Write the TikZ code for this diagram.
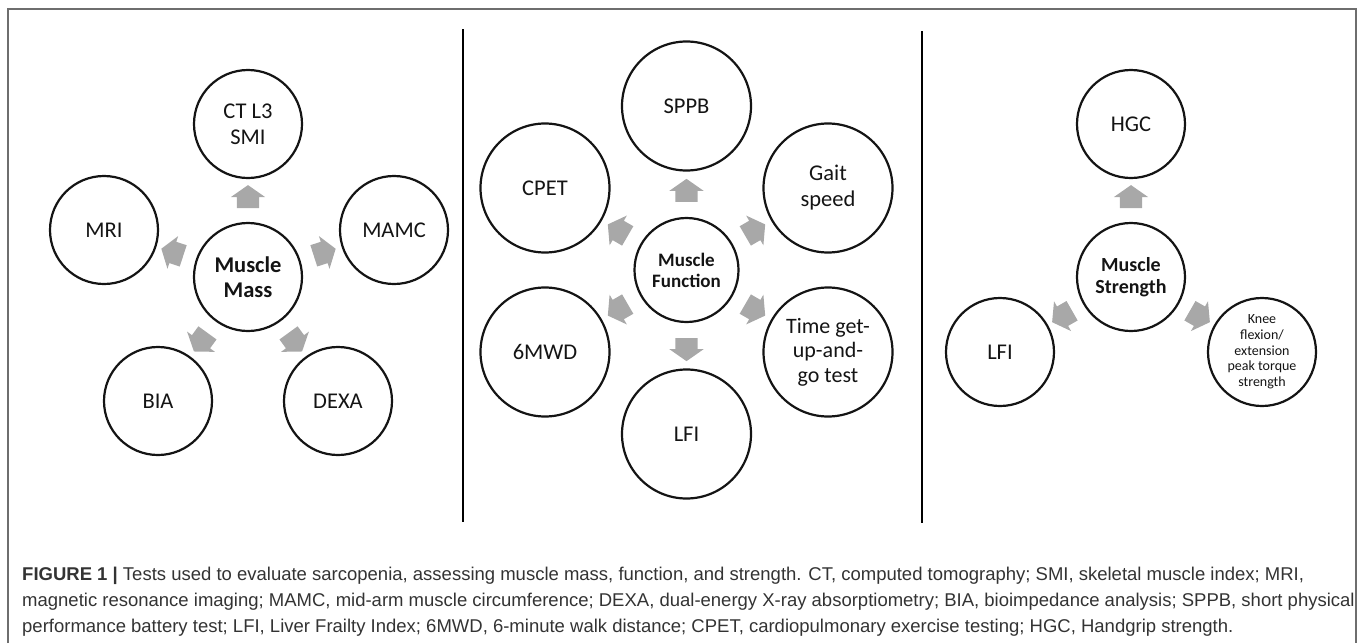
\documentclass[tikz,border=0pt]{standalone}
\usepackage{fontspec}
\setmainfont{Carlito}
\newfontfamily\captionfont{Liberation Sans}
\usetikzlibrary{
  calc,
  shapes.arrows
}
\definecolor{framegray}{HTML}{6E6E6E}
\definecolor{arrowgray}{HTML}{A8A8A8}
\definecolor{inkblack}{HTML}{141414}
\definecolor{captiongray}{HTML}{333333}
\tikzset{
  % For the circles holding one test each.
  test/.style={
    circle,
    draw=inkblack,
    line width=2.2pt,
    inner sep=0pt,
    minimum size=108pt,
    align=center,
    text=inkblack,
    font=\fontsize{22.5pt}{26pt}\selectfont},
%
  % For the bigger circles of the middle panel.
  big test/.style={
    test,
    minimum size=129pt},
%
  % For the circle in the centre of each panel.
  hub/.style={
    test,
    font=\bfseries\fontsize{22.5pt}{25pt}\selectfont},
%
  % For the fat grey arrows, put half way between two circles.
  % The shaft width comes from the inner ysep of the empty node.
  block arrow/.style={
    single arrow,
    sloped,
    allow upside down,
    fill=arrowgray,
    inner xsep=0pt,
    inner ysep=11pt,
    minimum height=23pt,
    single arrow head extend=6pt,
    single arrow tip angle=110},
%
  % For the lines between the panels.
  divider/.style={
    line width=1.5pt},
%
  % For the grey frame round the whole figure.
  frame/.style={
    draw=framegray,
    line width=1.5pt},
%
  % For the legend below the panels.
  caption/.style={
    inner sep=0pt,
    align=left,
    text=captiongray,
    font=\captionfont\fontsize{18.5pt}{26pt}\selectfont}
}

\begin{document}
\begin{tikzpicture}[x=1pt, y=-1pt]
  \useasboundingbox (0,0) rectangle (1358,643);
  \draw[frame] (8,643) -- (8,9) -- (1356,9) -- (1356,643);

  % Muscle mass
  \node[hub] (mass) at (248,277) {Muscle\\Mass};
  \node[test] (ct) at (248,124) {CT L3\\SMI};
  \node[test] (mri) at (104,230) {MRI};
  \node[test] (mamc) at (394,230) {MAMC};
  \node[test] (bia) at (158,401) {BIA};
  \node[test] (dexa) at (338,401) {DEXA};
  \foreach \t in {ct, mri, mamc, bia, dexa}
    \path (mass) -- node[block arrow] {} (\t);

  \draw[divider] (463,29) -- (463,522);

  % Muscle function
  \node[hub, minimum size=104pt,
        font=\bfseries\fontsize{19pt}{21pt}\selectfont]
    (function) at (686.5,270) {Muscle\\Function};
  \node[big test] (sppb) at (686.5,106) {SPPB};
  \node[big test] (cpet) at (545,188) {CPET};
  \node[big test] (gait) at (828,188) {Gait\\speed};
  \node[big test] (mwd) at (545,352) {6MWD};
  \node[big test, font=\fontsize{22pt}{24.5pt}\selectfont]
    (tug) at (828,352) {Time get-\\up-and-\\go test};
  \node[big test] (lfi) at (686.5,434) {LFI};
  \foreach \t in {sppb, cpet, gait, mwd, tug, lfi}
    \path (function) -- node[block arrow] {} (\t);

  \draw[divider] (922,31) -- (922,523);

  % Muscle strength
  \node[hub, font=\bfseries\fontsize{20pt}{22pt}\selectfont]
    (strength) at (1131,277) {Muscle\\Strength};
  \node[test] (hgc) at (1131,124) {HGC};
  \node[test] (lfiright) at (1000,352) {LFI};
  \node[test, font=\fontsize{14pt}{15.7pt}\selectfont]
    (knee) at (1262,352) {Knee\\flexion/\\extension\\peak torque\\strength};
  \foreach \t in {hgc, lfiright, knee}
    \path (strength) -- node[block arrow] {} (\t);

  % base of a node with several lines sits on its last line
  \node[caption, anchor=base west] (legend) at (22,632)
    {\textbf{FIGURE 1 |} Tests used to evaluate sarcopenia, assessing muscle mass, function, and strength. CT, computed tomography; SMI, skeletal muscle index; MRI,\\
     magnetic resonance imaging; MAMC, mid-arm muscle circumference; DEXA, dual-energy X-ray absorptiometry; BIA, bioimpedance analysis; SPPB, short physical\\
     performance battery test; LFI, Liver Frailty Index; 6MWD, 6-minute walk distance; CPET, cardiopulmonary exercise testing; HGC, Handgrip strength.};
\end{tikzpicture}
\end{document}
